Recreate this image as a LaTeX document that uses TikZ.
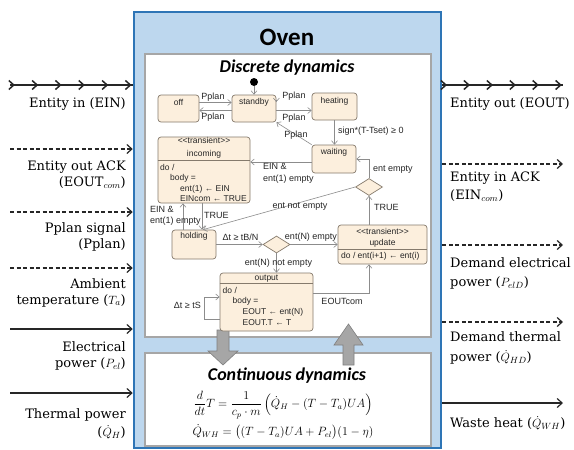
\documentclass[tikz,border=0pt]{standalone}
\usepackage{amsmath}
\usepackage{fontspec}
\setmainfont{DejaVu Serif}
\setsansfont{Liberation Sans}
\newfontfamily\calib{Carlito}
\usetikzlibrary{arrows.meta,decorations.markings,shapes.geometric}
\definecolor{ovenfill}{HTML}{BDD7EE}
\definecolor{ovenline}{HTML}{2E75B6}
\definecolor{boxline}{HTML}{A6A6A6}
\definecolor{stfill}{HTML}{FCEFDD}
\definecolor{stline}{HTML}{857A6C}
\definecolor{trline}{HTML}{8C8C8C}
\definecolor{blk}{HTML}{A6A6A6}
\definecolor{blkline}{HTML}{7F7F7F}
\newcommand{\trans}{\textless\kern0pt\textless\kern0pt transient\kern0pt\textgreater\kern0pt\textgreater}
\begin{document}
\begin{tikzpicture}[x=1pt,y=-1pt,
  st/.style={draw=stline, fill=stfill, rounded corners=3pt, line width=0.7pt, inner sep=0pt},
  stxt/.style={font=\sffamily\fontsize{8.5}{10.5}\selectfont, inner sep=0pt, text=black!85},
  trl/.style={font=\sffamily\fontsize{9}{12}\selectfont, inner sep=0pt, text=black!85},
  tr/.style={draw=trline, line width=0.6pt, -{Straight Barb[length=3.5pt,width=6pt]}},
  dia/.style={diamond, draw=stline, fill=stfill, line width=0.7pt, minimum width=27pt, minimum height=17pt, inner sep=0pt},
  ext/.style={line width=1.2pt, draw=black!85, -{Straight Barb[length=5pt,width=9pt]}},
  dsh/.style={ext, dash pattern=on 4pt off 2.5pt},
  chain/.style={line width=1.2pt, draw=black!85, postaction={decorate},
    decoration={markings, mark=between positions 0.04 and 1 step 0.19 with {\arrow{Straight Barb[length=5pt,width=9pt,line width=1.5pt]}}}},
  lbll/.style={font=\fontsize{13}{16}\selectfont, inner sep=0pt, align=right, anchor=north east},
  lblr/.style={font=\fontsize{13}{17.5}\selectfont, inner sep=0pt, align=left, anchor=north west},
  blkarrow/.style={fill=blk, draw=blkline, line width=0.6pt},
]
\useasboundingbox (0,0) rectangle (574,450);
% oven
\node[draw=ovenline, fill=ovenfill, line width=2.5pt, minimum width=307pt, minimum height=436pt, inner sep=0pt] (oven) at (287.5,230) {};
\node[font=\calib\bfseries\fontsize{25}{25}\selectfont, inner sep=0pt] (oventitle) at (287,37) {Oven};
\draw[draw=boxline, fill=white, line width=1.5pt] (145,54) rectangle (431,337);
\draw[draw=boxline, fill=white, line width=1.5pt] (145,353) rectangle (431,446);
\node[font=\calib\bfseries\itshape\fontsize{18}{18}\selectfont, inner sep=0pt] (disctitle) at (287,68) {Discrete dynamics};
\node[font=\calib\bfseries\itshape\fontsize{18}{18}\selectfont, inner sep=0pt] (conttitle) at (287,376) {Continuous dynamics};
\node[font=\fontsize{11.5}{11.5}\selectfont, inner sep=0pt] (eq1) at (283,405) {$\dfrac{d}{dt}T = \dfrac{1}{c_p\cdot m}\left(\dot{Q}_H - (T-T_a)UA\right)$};
\node[font=\fontsize{11.5}{11.5}\selectfont, inner sep=0pt] (eq2) at (283,432) {$\dot{Q}_{WH} = \big((T-T_a)UA + P_{el}\big)(1-\eta)$};
% block arrows
\draw[blkarrow] (217,330) -- (229,330) -- (229,351) -- (238,351) -- (223,365) -- (208,351) -- (217,351) -- cycle;
\draw[blkarrow] (343,365) -- (354,365) -- (354,345) -- (363,345) -- (348.5,324) -- (334,345) -- (343,345) -- cycle;
% states
\node[st, minimum width=41pt, minimum height=27pt] (off) at (178.5,108.5) {};
\node[stxt] (offt) at (178.5,102) {off};
\node[st, minimum width=44pt, minimum height=27pt] (standby) at (254,108.5) {};
\node[stxt] (standbyt) at (254,102) {standby};
\node[st, minimum width=45pt, minimum height=27pt] (heating) at (334.5,106.5) {};
\node[stxt] (heatingt) at (334.5,101) {heating};
\node[st, minimum width=44pt, minimum height=28pt] (waiting) at (334,159) {};
\node[stxt] (waitingt) at (334,152) {waiting};
\node[st, minimum width=44pt, minimum height=29pt] (holding) at (194,244.5) {};
\node[stxt] (holdingt) at (194,236) {holding};
% incoming
\node[st, minimum width=92pt, minimum height=66pt] (inc) at (204,170) {};
\draw[draw=stline, line width=0.6pt] (inc.west |- 0,160) -- (inc.east |- 0,160);
\node[stxt, align=center, font=\sffamily\fontsize{8.5}{12.5}\selectfont] (inch) at (204,148) {\trans\\incoming};
\node[stxt, align=left, anchor=north west] (incb) at (160,164) {do /\\\hspace*{10pt}body =\\\hspace*{20pt}ent(1) ← EIN\\\hspace*{20pt}EINcom ← TRUE};
% update
\node[st, minimum width=89pt, minimum height=39pt] (upd) at (382.5,244.5) {};
\draw[draw=stline, line width=0.6pt] (upd.west |- 0,249.5) -- (upd.east |- 0,249.5);
\node[stxt, align=center, font=\sffamily\fontsize{8.5}{11}\selectfont] (updh) at (382.5,237.5) {\trans\\update};
\node[stxt, anchor=west] (updb) at (341,256.5) {do / ent(i+1) ← ent(i)};
% output
\node[st, minimum width=93pt, minimum height=58pt] (out) at (266.5,302) {};
\draw[draw=stline, line width=0.6pt] (out.west |- 0,283.5) -- (out.east |- 0,283.5);
\node[stxt] (outh) at (266.5,278.5) {output};
\node[stxt, align=left, anchor=north west, font=\sffamily\fontsize{8.5}{10.6}\selectfont] (outb) at (222.5,287) {do /\\\hspace*{10pt}body =\\\hspace*{20pt}EOUT ← ent(N)\\\hspace*{20pt}EOUT.T ← T};
% decisions
\node[dia] (d1) at (276.5,244.5) {};
\node[dia] (d2) at (369,187) {};
% initial
\node[circle, fill=black, inner sep=0pt, minimum size=8pt] (init) at (254,82) {};
% transitions
\draw[tr] (init) -- (standby.north);
\draw[tr] ([yshift=6pt]off.east) -- ([yshift=6pt]off.east -| standby.west);
\draw[tr] ([yshift=-2pt]standby.west) -- ([yshift=-2pt]standby.west -| off.east);
\draw[tr] ([yshift=6.5pt]standby.east |- heating.west) -- ([yshift=6.5pt]standby.east);
\draw[tr] ([yshift=-2pt]standby.east) -- ([yshift=-2pt]standby.east -| heating.west);
\draw[tr] (heating.south) -- (heating.south |- waiting.north);
\draw[tr] (waiting.north west) -- (standby.south east);
\draw[tr] ([yshift=-3pt]waiting.west) -- ([yshift=-3pt]waiting.west -| inc.east);
\draw[tr] (d2.north) |- (waiting.east);
\draw[tr] (d2.south |- upd.north) -- (d2.south);
\draw[tr] (d2.west) -- ([xshift=9pt]holding.north);
\draw[tr] ([xshift=-2pt]inc.south) -- ([xshift=-2pt]inc.south |- holding.north);
\draw[tr] ([xshift=-11pt]holding.north) -- ([xshift=-11pt]holding.north |- inc.south);
\draw[tr] (holding.east) -- (d1.west);
\draw[tr] (d1.east) -- (d1.east -| upd.west);
\draw[tr] (d1.south) -- (d1.south |- out.north);
\draw[tr] ([yshift=-17pt]out.west) -- ++(-15,0) |- ([yshift=5pt]out.west);
\draw[tr] ([yshift=9pt]out.east) -| (d2.south |- upd.south);
% transition labels
\node[trl] (p1) at (213,97.5) {Pplan};
\node[trl] (p2) at (213,117.5) {Pplan};
\node[trl] (p3) at (294,96) {Pplan};
\node[trl] (p4) at (294,118) {Pplan};
\node[trl] (p5) at (296,135) {Pplan};
\node[trl, anchor=west] (sg) at (338,131) {sign*(T-Tset) ≥ 0};
\node[trl, align=left, anchor=north west] (w2i) at (263,163.5) {EIN \&\\ent(1) empty};
\node[trl, anchor=west] (entempty) at (373,170) {ent empty};
\node[trl, anchor=west] (true2) at (374,207) {TRUE};
\node[trl, anchor=west] (true1) at (204,215.5) {TRUE};
\node[trl, align=left, anchor=north west, font=\sffamily\fontsize{9}{11}\selectfont] (h2i) at (150,206.5) {EIN \&\\ent(1) empty};
\node[trl] (entnot) at (300,207) {ent not empty};
\node[trl] (dtb) at (240.5,237) {Δt ≥ tB/N};
\node[trl] (entn) at (311,237) {ent(N) empty};
\node[trl] (entnn) at (278.5,263) {ent(N) not empty};
\node[trl, anchor=east] (dts) at (201,305) {Δt ≥ tS};
\node[trl] (eoutcom) at (342,301) {EOUTcom};
% external coordinates
\coordinate (a1) at (10,85);
\coordinate (a2) at (10,149);
\coordinate (a3) at (10,212);
\coordinate (a4) at (10,268);
\coordinate (a5) at (10,329);
\coordinate (a6) at (10,393);
\coordinate (b1) at (563,85);
\coordinate (b2) at (563,164);
\coordinate (b3) at (563,245);
\coordinate (b4) at (563,322);
\coordinate (b5) at (563,403);
\draw[chain] (a1) -- (a1 -| oven.west);
\draw[dsh] (a2) -- (a2 -| oven.west);
\draw[dsh] (a3) -- (a3 -| oven.west);
\draw[dsh] (a4) -- (a4 -| oven.west);
\draw[ext] (a5) -- (a5 -| oven.west);
\draw[ext] (a6) -- (a6 -| oven.west);
\draw[chain] (b1 -| oven.east) -- (b1);
\draw[dsh] (b2 -| oven.east) -- (b2);
\draw[dsh] (b3 -| oven.east) -- (b3);
\draw[dsh] (b4 -| oven.east) -- (b4);
\draw[ext] (b5 -| oven.east) -- (b5);
% external labels
\node[lbll] (l1) at (126,97) {Entity in (EIN)};
\node[lbll] (l2) at (126,161) {Entity out ACK\\(EOUT$_{com}$)};
\node[lbll] (l3) at (126,222) {Pplan signal\\(Pplan)};
\node[lbll] (l4) at (126,278) {Ambient\\temperature ($T_a$)};
\node[lbll] (l5) at (126,341) {Electrical\\power ($P_{el}$)};
\node[lbll, font=\fontsize{13}{18.5}\selectfont] (l6) at (126,408) {Thermal power\\($\dot{Q}_H$)};
\node[lblr] (r1) at (450,97) {Entity out (EOUT)};
\node[lblr] (r2) at (450,172) {Entity in ACK\\(EIN$_{com}$)};
\node[lblr, font=\fontsize{13}{19}\selectfont] (r3) at (450,257) {Demand electrical\\power ($P_{elD}$)};
\node[lblr, font=\fontsize{13}{20}\selectfont] (r4) at (450,331) {Demand thermal\\power ($\dot{Q}_{HD}$)};
\node[lblr] (r5) at (450,416) {Waste heat ($\dot{Q}_{WH}$)};
\end{tikzpicture}
\end{document}
